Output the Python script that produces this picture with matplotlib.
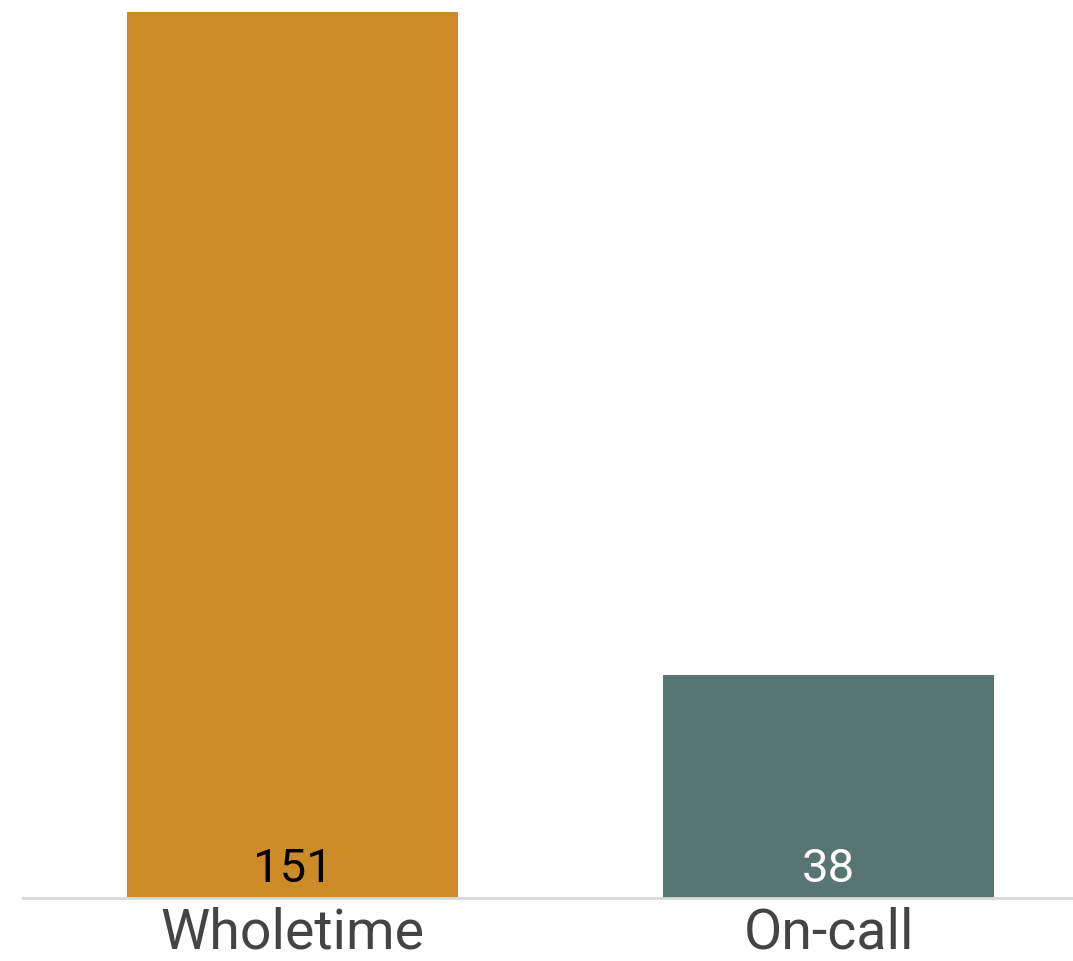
import matplotlib.pyplot as plt

categories = ["Wholetime", "On-call"]
values = [151, 38]
bar_colors = ["#CC8B27", "#577573"]
label_colors = ["black", "white"]

plt.rcParams["font.family"] = ["Roboto", "DejaVu Sans"]

fig = plt.figure(figsize=(10.73, 9.61), dpi=100)
ax = fig.add_axes([23 / 1073, 63 / 961, 1050 / 1073, (898 - 12) / 961])

x = range(len(categories))
ax.bar(x, values, width=0.6175, color=bar_colors)
ax.set_xlim(-0.5028, 1.456)
ax.set_ylim(0, 151)

for i, v in enumerate(values):
    ax.annotate(str(v), (i, 0), xytext=(0, 5), textcoords="offset points",
                ha="center", va="bottom", fontsize=34, color=label_colors[i])

ax.set_xticks(list(x))
ax.set_xticklabels(categories, fontsize=40, color="#444444")
ax.tick_params(axis="x", length=0, pad=6)
ax.set_yticks([])
for side in ["top", "right", "left"]:
    ax.spines[side].set_visible(False)
ax.spines["bottom"].set_color("#d9d9d9")
ax.spines["bottom"].set_linewidth(2)

fig.savefig("out.png", dpi=100)
